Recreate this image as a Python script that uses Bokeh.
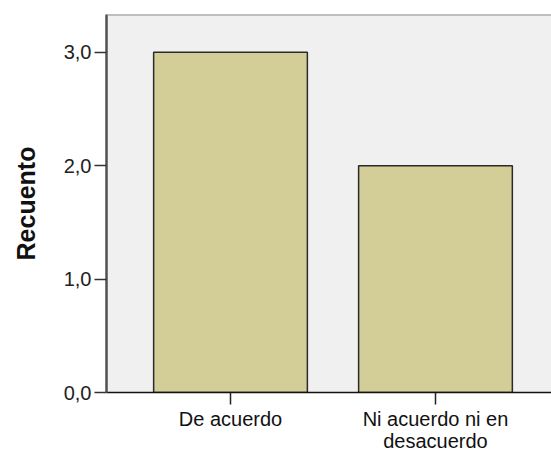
from bokeh.plotting import figure
from bokeh.models import ColumnDataSource, Range1d, FixedTicker, Span
from bokeh.embed import file_html
from bokeh.resources import INLINE

categories = ["De acuerdo", "Ni acuerdo ni en\ndesacuerdo"]
counts = [3, 2]
y_ticks = [0, 1, 2, 3]
y_tick_labels = ["0,0", "1,0", "2,0", "3,0"]
y_title = "Recuento"

xs = list(range(len(categories)))
src = ColumnDataSource(dict(x=xs, top=counts))

y_top = 3.334
p = figure(width=551, height=454, output_backend="svg", toolbar_location=None,
           x_range=Range1d(-0.605, len(categories) - 1 + 0.566),
           y_range=Range1d(0, y_top),
           min_border_left=106, min_border_right=0, min_border_top=14, min_border_bottom=61)

p.background_fill_color = "#F0F0F0"
p.border_fill_color = "white"
p.outline_line_color = None
p.xgrid.visible = False
p.ygrid.visible = False

p.vbar(x="x", top="top", width=0.75, bottom=0, source=src,
       fill_color="#D3CE97", line_color="#2a2a2a", line_width=1.5)

top_line = Span(location=y_top, dimension="width", line_color="#8a8a8a", line_width=2)
p.add_layout(top_line)

font = "Liberation Sans"
# y axis
p.yaxis.ticker = FixedTicker(ticks=y_ticks)
p.yaxis.major_label_overrides = {t: l for t, l in zip(y_ticks, y_tick_labels)}
p.yaxis.minor_tick_line_color = None
p.yaxis.major_tick_out = 12
p.yaxis.major_tick_in = 0
p.yaxis.major_tick_line_color = "#333333"
p.yaxis.major_tick_line_width = 1.5
p.yaxis.axis_line_color = "#505050"
p.yaxis.axis_line_width = 2.5
p.yaxis.major_label_text_font = font
p.yaxis.major_label_text_font_size = "20px"
p.yaxis.major_label_text_color = "#222222"
p.yaxis.major_label_standoff = 3
p.yaxis.axis_label = y_title
p.yaxis.axis_label_text_font = font
p.yaxis.axis_label_text_font_style = "bold"
p.yaxis.axis_label_text_font_size = "25px"
p.yaxis.axis_label_text_color = "#111111"
p.yaxis.axis_label_standoff = 21

# x axis
p.xaxis.ticker = FixedTicker(ticks=xs)
p.xaxis.major_label_overrides = {x: c for x, c in zip(xs, categories)}
p.xaxis.minor_tick_line_color = None
p.xaxis.major_tick_out = 12
p.xaxis.major_tick_in = 0
p.xaxis.major_tick_line_color = "#222222"
p.xaxis.major_tick_line_width = 1.5
p.xaxis.axis_line_color = "#111111"
p.xaxis.axis_line_width = 1.5
p.xaxis.major_label_text_font = font
p.xaxis.major_label_text_font_size = "20px"
p.xaxis.major_label_text_line_height = 1.0
p.xaxis.major_label_text_color = "#111111"
p.xaxis.major_label_standoff = 3

open("out.html", "w").write(file_html(p, INLINE))
